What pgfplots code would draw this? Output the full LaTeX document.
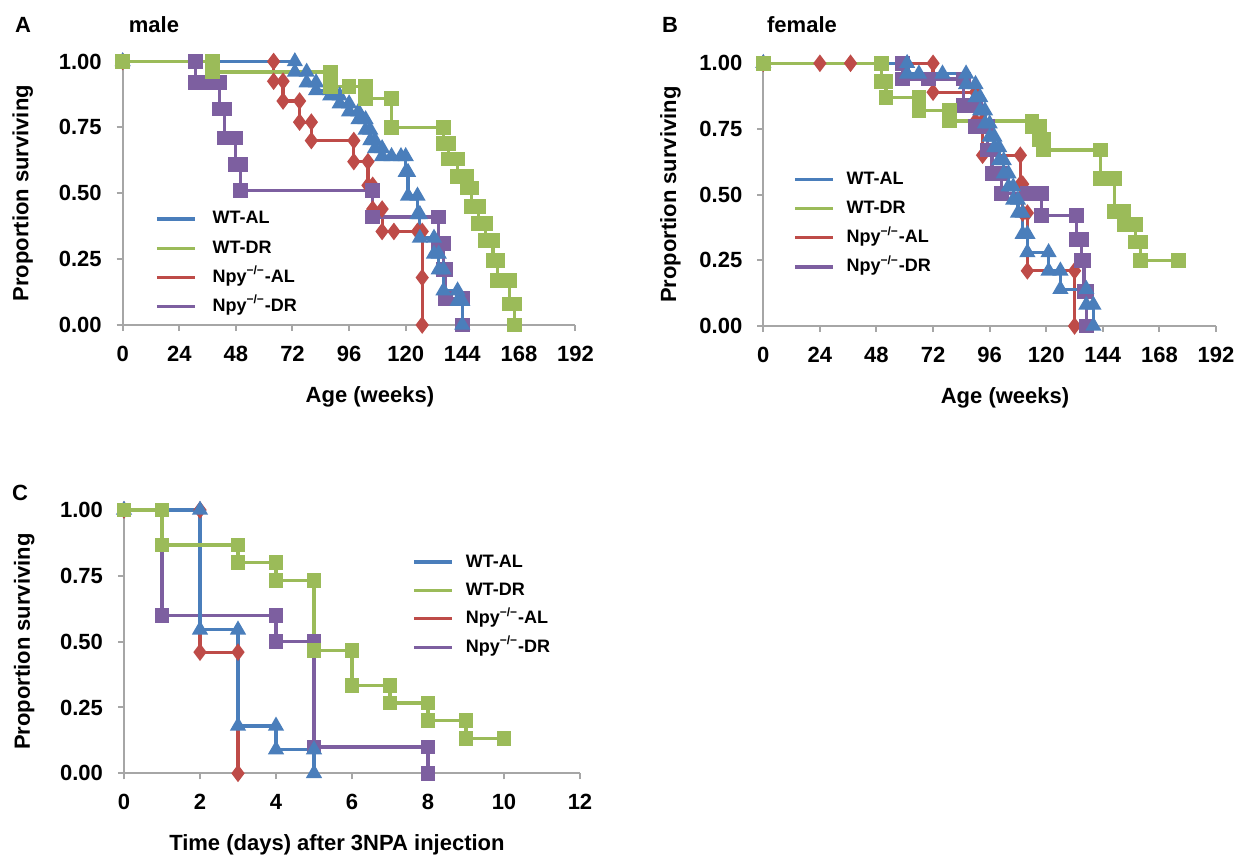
\documentclass[border=0pt]{standalone}
\usepackage{fontspec}
\setmainfont{Liberation Sans}
\usepackage{pgfplots}
\pgfplotsset{compat=1.18}
\definecolor{cblue}{HTML}{4A7EBB}
\definecolor{cgreen}{HTML}{9BBB59}
\definecolor{cred}{HTML}{BE4B48}
\definecolor{cpurple}{HTML}{7D5FA0}
\definecolor{axgray}{HTML}{A6A6A6}
\newcommand{\lf}{\bfseries\fontsize{11}{13}\selectfont}
\pgfplotsset{
 km/.style={
   scale only axis, clip=false,
   axis x line=bottom, axis y line=left,
   axis line style={-, draw=axgray, line width=1pt},
   tick style={draw=axgray, line width=1pt},
   tick align=outside, major tick length=3pt,
   ymin=0, ymax=1, ytick={0,0.25,0.5,0.75,1},
   yticklabels={0.00,0.25,0.50,0.75,1.00},
   /pgf/number format/assume math mode=true,
   ticklabel style={font=\lf},
   yticklabel style={xshift=-4pt},
   xticklabel style={yshift=-4pt},
   ylabel={Proportion surviving},
   legend style={draw=none, fill=none, inner sep=0pt, font=\bfseries\fontsize{9}{11}\selectfont,
     nodes={inner sep=0pt, text height=7pt, text depth=2pt}, row sep=5.6pt, column sep=6pt,
     anchor=north west, cells={anchor=west}},
   legend image code/.code={\draw[##1, mark=none, line width=1.6pt] (0pt,0pt) -- (19pt,0pt);},
 },
 sr/.style={cred, line width=1.6pt, mark=diamond*, mark size=3.1pt, mark options={solid, fill=cred}},
 sp/.style={cpurple, line width=1.6pt, mark=square*, mark size=2.9pt, mark options={solid, fill=cpurple}},
 sb/.style={cblue, line width=1.6pt, mark=triangle*, mark size=3.1pt, mark options={solid, fill=cblue}},
 sg/.style={cgreen, line width=1.6pt, mark=square*, mark size=2.9pt, mark options={solid, fill=cgreen}},
}
\begin{document}
\begin{tikzpicture}
\useasboundingbox (0,0) rectangle (618.5pt,429pt);
\node[font=\lf] at (11.5pt,416.5pt) {A};
\node[font=\lf] at (77pt,416.5pt) {male};
\node[font=\lf] at (335pt,416.5pt) {B};
\node[font=\lf] at (401pt,416.5pt) {female};
\node[font=\lf] at (10pt,182.5pt) {C};

% Panel A
\begin{axis}[km, at={(61.35pt,266.5pt)}, anchor=south west, width=226.4pt, height=131.75pt,
  xmin=0, xmax=192, xtick={0,24,...,192},
  xlabel={Age (weeks)},
  every axis y label/.style={at={(axis description cs:-0.221,0.5)}, rotate=90, anchor=center, font=\lf},
  every axis x label/.style={at={(axis description cs:0.546,-0.273)}, anchor=center, font=\lf},
  legend style={at={(axis description cs:0.0713,0.438)}, column sep=8pt}]
\addlegendimage{sb}\addlegendentry{WT-AL}
\addlegendimage{sg}\addlegendentry{WT-DR}
\addlegendimage{sr}\addlegendentry{Npy\textsuperscript{−/−}-AL}
\addlegendimage{sp}\addlegendentry{Npy\textsuperscript{−/−}-DR}
\addplot[sr, forget plot] coordinates {(0,1)(64,1)(64,0.925)(68,0.925)(68,0.85)(75,0.85)(75,0.77)(80,0.77)(80,0.70)(98,0.70)(98,0.62)(104,0.62)(104,0.53)(106,0.53)(106,0.44)(110,0.44)(110,0.355)(115,0.355)(125,0.355)(127,0.355)(127,0.18)(127,0)};
\addplot[sp, forget plot] coordinates {(0,1)(31,1)(31,0.92)(36,0.92)(41,0.92)(41,0.82)(43,0.82)(43,0.71)(48,0.71)(48,0.61)(50,0.61)(50,0.51)(106,0.51)(106,0.41)(134,0.41)(134,0.31)(136,0.31)(136,0.21)(137,0.21)(137,0.10)(144,0.10)(144,0)};
\addplot[sb, forget plot] coordinates {(0,1)(73,1)(73,0.96)(78,0.96)(78,0.92)(82,0.92)(82,0.89)(88,0.89)(88,0.87)(92,0.87)(92,0.84)(96,0.84)(96,0.81)(100,0.81)(100,0.78)(103,0.78)(103,0.74)(105,0.74)(105,0.70)(107,0.70)(107,0.67)(110,0.67)(110,0.64)(114,0.64)(118,0.64)(120,0.64)(120,0.58)(121,0.58)(121,0.49)(125,0.49)(125,0.42)(126,0.42)(126,0.33)(132,0.33)(132,0.27)(134,0.27)(134,0.21)(136,0.21)(136,0.13)(142,0.13)(142,0.09)(144,0.09)(144,0)};
\addplot[sg, forget plot] coordinates {(0,1)(38,1)(38,0.96)(88,0.96)(88,0.905)(96,0.905)(103,0.905)(103,0.86)(114,0.86)(114,0.75)(136,0.75)(136,0.69)(138,0.69)(138,0.63)(142,0.63)(142,0.565)(146,0.565)(146,0.52)(148,0.52)(148,0.45)(151,0.45)(151,0.385)(154,0.385)(154,0.32)(157,0.32)(157,0.245)(159,0.245)(159,0.17)(164,0.17)(164,0.08)(166,0.08)(166,0)};
\end{axis}

% Panel B
\begin{axis}[km, at={(381.65pt,266pt)}, anchor=south west, width=226.35pt, height=131.35pt,
  xmin=0, xmax=192, xtick={0,24,...,192},
  xlabel={Age (weeks)},
  every axis y label/.style={at={(axis description cs:-0.205,0.5)}, rotate=90, anchor=center, font=\lf},
  every axis x label/.style={at={(axis description cs:0.534,-0.273)}, anchor=center, font=\lf},
  legend style={at={(axis description cs:0.0656,0.594)}}]
\addlegendimage{sb}\addlegendentry{WT-AL}
\addlegendimage{sg}\addlegendentry{WT-DR}
\addlegendimage{sr}\addlegendentry{Npy\textsuperscript{−/−}-AL}
\addlegendimage{sp}\addlegendentry{Npy\textsuperscript{−/−}-DR}
\addplot[sr, forget plot] coordinates {(0,1)(24,1)(37,1)(72,1)(72,0.89)(90,0.89)(90,0.78)(93,0.78)(93,0.65)(109,0.65)(109,0.54)(110,0.54)(110,0.43)(112,0.43)(112,0.21)(132,0.21)(132,0)};
\addplot[sp, forget plot] coordinates {(0,1)(59,1)(59,0.94)(70,0.94)(85,0.94)(85,0.84)(90,0.84)(90,0.76)(95,0.76)(95,0.67)(97,0.67)(97,0.58)(101,0.58)(101,0.505)(112,0.505)(118,0.505)(118,0.42)(133,0.42)(133,0.33)(135,0.33)(135,0.25)(136,0.25)(136,0.13)(137,0.13)(137,0)};
\addplot[sb, forget plot] coordinates {(0,1)(61,1)(61,0.96)(66,0.96)(76,0.96)(86,0.96)(86,0.92)(90,0.92)(90,0.87)(92,0.87)(92,0.82)(94,0.82)(94,0.77)(96,0.77)(96,0.72)(98,0.72)(98,0.68)(100,0.68)(100,0.63)(102,0.63)(102,0.58)(104,0.58)(104,0.53)(106,0.53)(106,0.48)(108,0.48)(108,0.43)(110,0.43)(110,0.35)(112,0.35)(112,0.28)(121,0.28)(121,0.21)(126,0.21)(126,0.14)(137,0.14)(137,0.08)(140,0.08)(140,0)};
\addplot[sg, forget plot] coordinates {(0,1)(50,1)(50,0.93)(52,0.93)(52,0.87)(66,0.87)(66,0.82)(79,0.82)(79,0.78)(114,0.78)(114,0.76)(117,0.76)(117,0.71)(119,0.71)(119,0.67)(143,0.67)(143,0.56)(149,0.56)(149,0.435)(153,0.435)(153,0.385)(158,0.385)(158,0.32)(160,0.32)(160,0.25)(176,0.25)};
\end{axis}

% Panel C
\begin{axis}[km, at={(62pt,42.35pt)}, anchor=south west, width=228pt, height=131.65pt,
  xmin=0, xmax=12, xtick={0,2,...,12},
  xlabel={Time (days) after 3NPA injection},
  every axis y label/.style={at={(axis description cs:-0.219,0.5)}, rotate=90, anchor=center, font=\lf},
  every axis x label/.style={at={(axis description cs:0.467,-0.272)}, anchor=center, font=\lf},
  legend style={at={(axis description cs:0.632,0.838)}, row sep=5.2pt}]
\addlegendimage{sb}\addlegendentry{WT-AL}
\addlegendimage{sg}\addlegendentry{WT-DR}
\addlegendimage{sr}\addlegendentry{Npy\textsuperscript{−/−}-AL}
\addlegendimage{sp}\addlegendentry{Npy\textsuperscript{−/−}-DR}
\addplot[sr, forget plot] coordinates {(0,1)(2,1)(2,0.46)(3,0.46)(3,0)};
\addplot[sp, forget plot] coordinates {(0,1)(1,1)(1,0.6)(4,0.6)(4,0.5)(5,0.5)(5,0.1)(8,0.1)(8,0)};
\addplot[sb, forget plot] coordinates {(0,1)(2,1)(2,0.545)(3,0.545)(3,0.18)(4,0.18)(4,0.09)(5,0.09)(5,0)};
\addplot[sg, forget plot] coordinates {(0,1)(1,1)(1,0.867)(3,0.867)(3,0.8)(4,0.8)(4,0.733)(5,0.733)(5,0.467)(6,0.467)(6,0.333)(7,0.333)(7,0.267)(8,0.267)(8,0.2)(9,0.2)(9,0.133)(10,0.133)};
\end{axis}
\end{tikzpicture}
\end{document}
